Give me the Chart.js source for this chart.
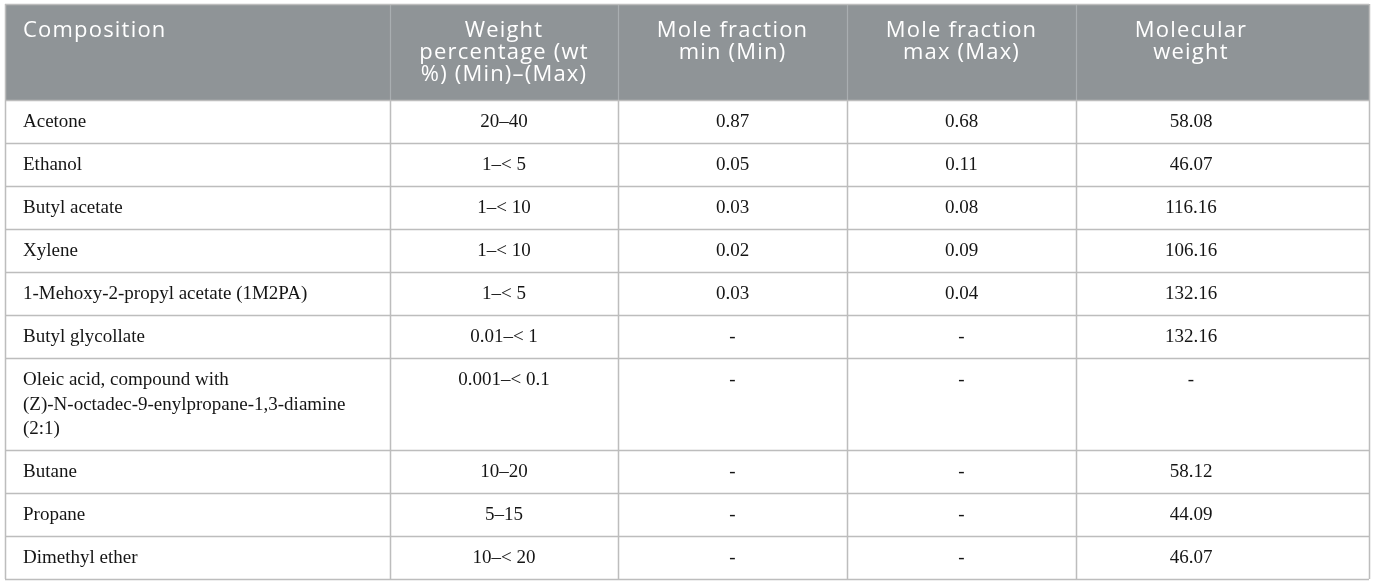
<!DOCTYPE html>
<html><head><meta charset="utf-8">
<script src="https://cdn.jsdelivr.net/npm/chart.js@4.4.1/dist/chart.umd.min.js"></script>
<style>
html,body{margin:0;padding:0;background:#ffffff;}
#wrap{width:1375px;height:585px;position:relative;}
</style>
</head><body>
<div id="wrap"><canvas id="c"></canvas></div>
<script>
// ---- data ----
const headers = [
  "Composition",
  "Weight\npercentage (wt\n%) (Min)–(Max)",
  "Mole fraction\nmin (Min)",
  "Mole fraction\nmax (Max)",
  "Molecular\nweight"
];
const compositions = [
  "Acetone",
  "Ethanol",
  "Butyl acetate",
  "Xylene",
  "1-Mehoxy-2-propyl acetate (1M2PA)",
  "Butyl glycollate",
  "Oleic acid, compound with\n(Z)-N-octadec-9-enylpropane-1,3-diamine\n(2:1)",
  "Butane",
  "Propane",
  "Dimethyl ether"
];
const weightPct = ["20–40","1–< 5","1–< 10","1–< 10","1–< 5","0.01–< 1","0.001–< 0.1","10–20","5–15","10–< 20"];
const moleMin   = ["0.87","0.05","0.03","0.02","0.03","-","-","-","-","-"];
const moleMax   = ["0.68","0.11","0.08","0.09","0.04","-","-","-","-","-"];
const molWeight = ["58.08","46.07","116.16","106.16","132.16","132.16","-","58.12","44.09","46.07"];

// ---- layout (table units) ----
const colEdges = [0, 385, 613, 842, 1071, 1364];
const colAlign = ["left","center","center","center","center"];
const colCenterOffset = [null, null, null, null, 115];
const headerHeight = 96;
const rowPad = 18.5, lineH = 24.5;
const rowHeights = compositions.map(c => rowPad + lineH * c.split("\n").length);
const tableHeight = headerHeight + rowHeights.reduce((a,b)=>a+b,0);

const columns = [compositions, weightPct, moleMin, moleMax, molWeight];

const tablePlugin = {
  id: 'tableDraw',
  afterDraw(chart) {
    const ctx = chart.ctx;
    const x = chart.scales.x, y = chart.scales.y;
    const X = v => x.getPixelForValue(v);
    const Y = v => y.getPixelForValue(v);
    const centerX = i => colCenterOffset[i] != null ? X(colEdges[i] + colCenterOffset[i]) : (X(colEdges[i]) + X(colEdges[i+1])) / 2;
    ctx.save();
    // header background
    ctx.fillStyle = '#8f9497';
    ctx.fillRect(X(0), Y(0), X(colEdges[5]) - X(0), Y(headerHeight) - Y(0));
    // header dividers
    ctx.strokeStyle = '#a9aeb1';
    ctx.lineWidth = 1.2;
    for (let i = 1; i < 5; i++) {
      const px = Math.round(X(colEdges[i])) + 0.5;
      ctx.beginPath(); ctx.moveTo(px, Y(0)); ctx.lineTo(px, Y(headerHeight)); ctx.stroke();
    }
    // header text
    ctx.fillStyle = '#ffffff';
    ctx.font = '500 22px "Open Sans"';
    try { ctx.letterSpacing = '1.2px'; } catch(e) {}
    ctx.textBaseline = 'middle';
    headers.forEach((h, i) => {
      h.split("\n").forEach((ln, k) => {
        const cy = Y(0) + 27 + k * 22;
        if (colAlign[i] === 'left') {
          ctx.textAlign = 'left';
          ctx.fillText(ln, X(colEdges[i]) + 18, cy);
        } else {
          ctx.textAlign = 'center';
          ctx.fillText(ln, centerX(i), cy);
        }
      });
    });
    try { ctx.letterSpacing = '0px'; } catch(e) {}
    // body grid
    ctx.strokeStyle = '#bdbdbd';
    ctx.lineWidth = 1.5;
    let top = headerHeight;
    const rowTops = [];
    rowHeights.forEach(h => { rowTops.push(top); top += h; });
    rowTops.concat([tableHeight]).forEach(v => {
      const py = Math.round(Y(v)) + 0.5;
      ctx.beginPath(); ctx.moveTo(X(0), py); ctx.lineTo(X(colEdges[5]), py); ctx.stroke();
    });
    for (let i = 0; i <= 5; i++) {
      const px = Math.round(X(colEdges[i])) + 0.5;
      ctx.beginPath();
      ctx.moveTo(px, i === 0 || i === 5 ? Y(0) : Y(headerHeight));
      ctx.lineTo(px, Y(tableHeight)); ctx.stroke();
    }
    ctx.beginPath(); ctx.moveTo(X(0), Math.round(Y(0)) + 0.5); ctx.lineTo(X(colEdges[5]), Math.round(Y(0)) + 0.5); ctx.stroke();
    // body text
    ctx.fillStyle = '#151515';
    ctx.font = '19px "Liberation Serif"';
    ctx.textBaseline = 'middle';
    columns.forEach((col, i) => {
      col.forEach((val, r) => {
        String(val).split("\n").forEach((ln, k) => {
          const cy = Y(rowTops[r] + 22.5 + k * lineH);
          if (colAlign[i] === 'left') {
            ctx.textAlign = 'left';
            ctx.fillText(ln, X(colEdges[i]) + 18, cy);
          } else {
            ctx.textAlign = 'center';
            ctx.fillText(ln, centerX(i), cy);
          }
        });
      });
    });
    ctx.restore();
  }
};

new Chart(document.getElementById('c'), {
  type: 'scatter',
  data: { datasets: [{ data: [] }] },
  options: {
    responsive: true,
    maintainAspectRatio: false,
    animation: false,
    layout: { padding: { left: 5, right: 6, top: 4, bottom: 6 } },
    plugins: { legend: { display: false }, tooltip: { enabled: false } },
    scales: {
      x: { type: 'linear', min: 0, max: colEdges[5], display: false },
      y: { type: 'linear', min: 0, max: tableHeight, reverse: true, display: false }
    }
  },
  plugins: [tablePlugin]
});
</script>
</body></html>
